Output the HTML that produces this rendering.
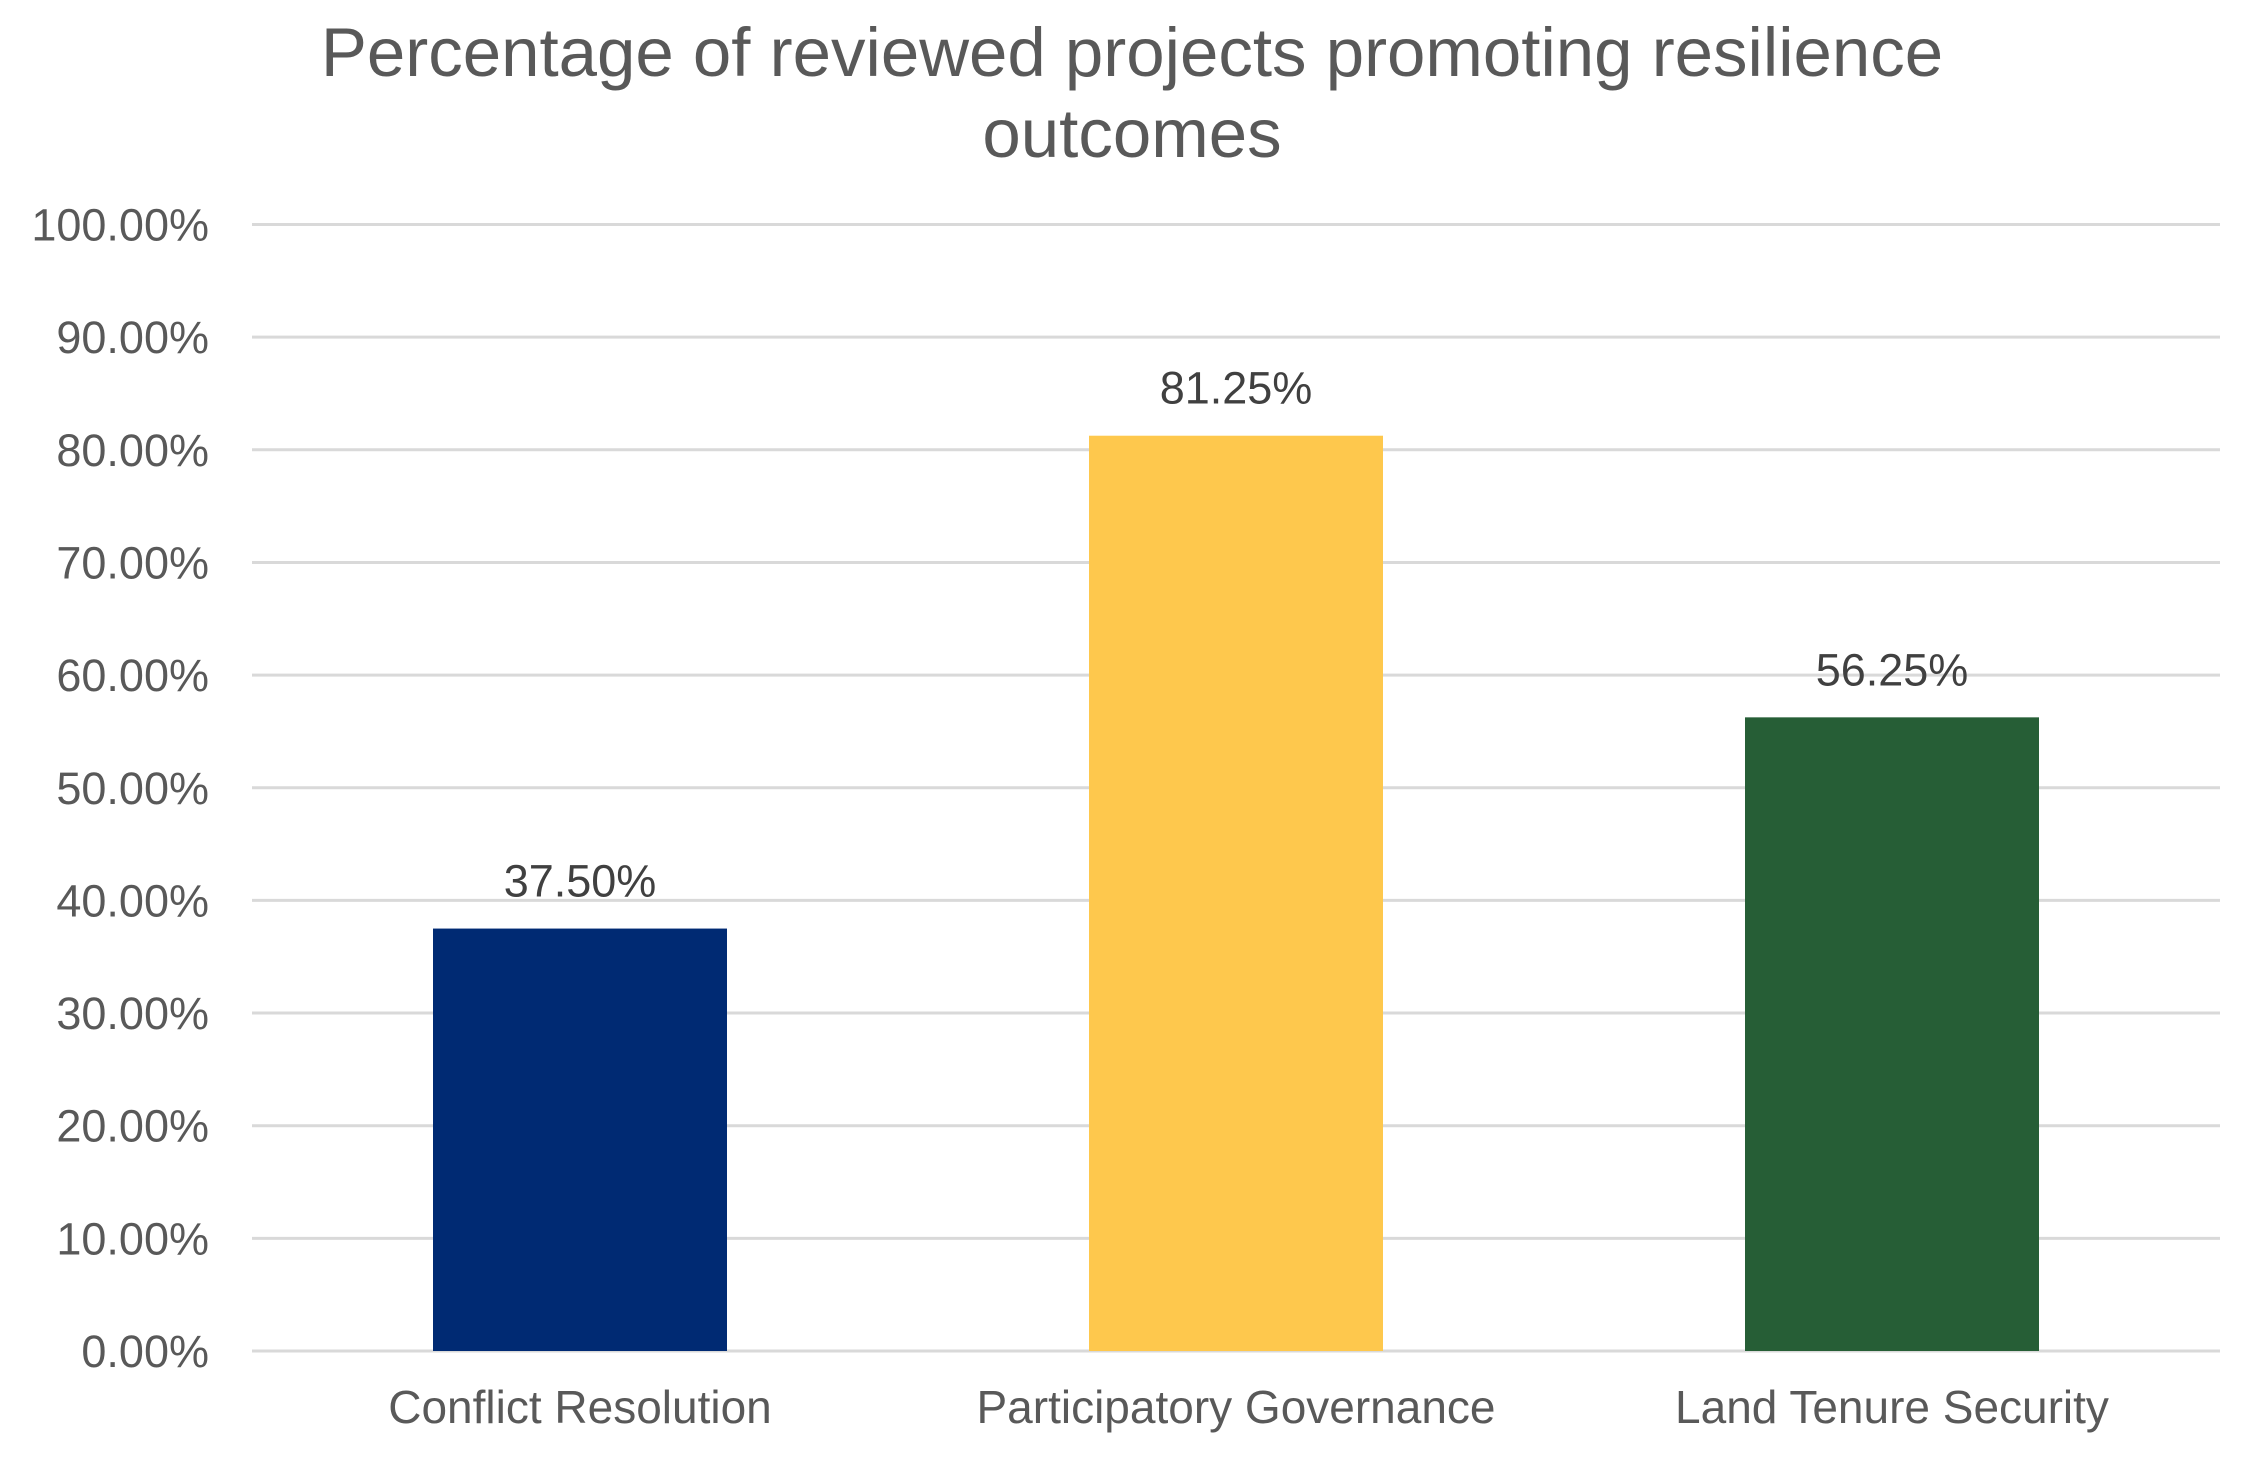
<!DOCTYPE html>
<html><head><meta charset="utf-8"><style>
html,body{margin:0;padding:0;background:#fff;}
svg{display:block;font-family:"Liberation Sans",Arial,sans-serif;}
</style></head><body>
<svg id="chart" width="2256" height="1467" viewBox="0 0 2256 1467">
<rect width="2256" height="1467" fill="#fff"/>
<text x="1132" y="76" text-anchor="middle" font-size="69" fill="#595959">Percentage of reviewed projects promoting resilience</text>
<text x="1132" y="157" text-anchor="middle" font-size="69" fill="#595959">outcomes</text>
<g id="grid"></g><g id="bars"></g><g id="labels"></g>
</svg>
<script>
const categories = ["Conflict Resolution","Participatory Governance","Land Tenure Security"];
const values = [37.5, 81.25, 56.25];
const valueLabels = ["37.50%","81.25%","56.25%"];
const colors = ["#002a73","#fec84d","#265e36"];
const ticks = [0,10,20,30,40,50,60,70,80,90,100];
const tickLabels = ["0.00%","10.00%","20.00%","30.00%","40.00%","50.00%","60.00%","70.00%","80.00%","90.00%","100.00%"];

const NS="http://www.w3.org/2000/svg";
const plotLeft=252,plotRight=2220,plotTop=224.5,plotBottom=1351;
function yScale(v){return plotBottom-(v/100)*(plotBottom-plotTop);}
const band=(plotRight-plotLeft)/categories.length;
function xc(i){return plotLeft+band*(i+0.5);}
const barW=294;
function mk(t,a,p,txt){const e=document.createElementNS(NS,t);for(const k in a)e.setAttribute(k,a[k]);if(txt!==undefined)e.textContent=txt;p.appendChild(e);return e;}
const grid=document.getElementById('grid'),bars=document.getElementById('bars'),labels=document.getElementById('labels');
ticks.forEach((t,i)=>{
  const l=mk('line',{x1:plotLeft,x2:plotRight,y1:yScale(t),y2:yScale(t),stroke:'#d9d9d9','stroke-width':3},grid);
  
  
  const tx=mk('text',{x:209,y:yScale(t)+16,'text-anchor':'end','font-size':45,fill:'#595959'},grid,tickLabels[i]);
  
  
});
categories.forEach((c,i)=>{
  const r=mk('rect',{x:xc(i)-barW/2,y:yScale(values[i]),width:barW,height:plotBottom-yScale(values[i]),fill:colors[i]},bars);
  
  
  const v=mk('text',{x:xc(i),y:yScale(values[i])-32,'text-anchor':'middle','font-size':45,fill:'#404040'},labels,valueLabels[i]);
  
  
  const cl=mk('text',{x:xc(i),y:1423,'text-anchor':'middle','font-size':46,fill:'#595959'},labels,c);
  
  
});
</script>
</body></html>
